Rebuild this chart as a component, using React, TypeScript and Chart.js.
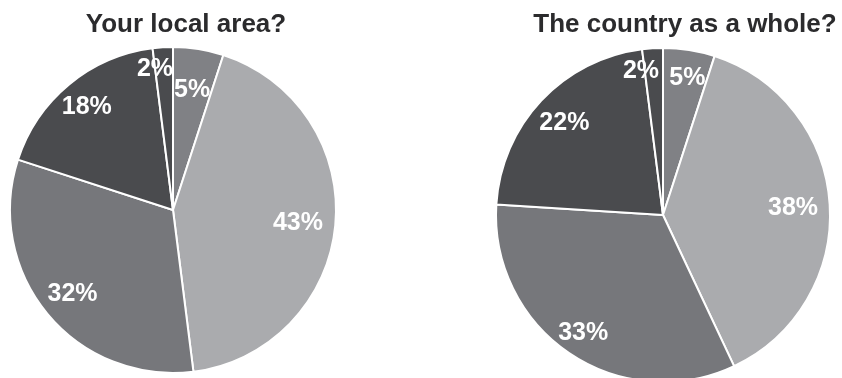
import React, { useEffect, useRef } from "react";
import { Chart, registerables } from "chart.js";

Chart.register(...registerables);

const categories = ["A", "B", "C", "D", "E"];
const localValues = [5, 43, 32, 18, 2];
const countryValues = [5, 38, 33, 22, 2];
const titles = ["Your local area?", "The country as a whole?"];

const sliceColors = ["#808185", "#aaabae", "#76777b", "#4a4b4e", "#4a4b4e"];
const localLabelRadius = [0.75, 0.77, 0.8, 0.83, 0.88];
const countryLabelRadius = [0.84, 0.78, 0.85, 0.81, 0.88];
const localLabelTurn = [0, 0, 0, 0, -3.6];
const countryLabelTurn = [1, 0, 0, 0, -5];

const FONT = "'Liberation Sans', Arial, sans-serif";

function makeLabelPlugin(fracs: number[], turns: number[]) {
  return {
    id: "sliceLabels",
    afterDatasetsDraw(chart: any) {
      const ctx = chart.ctx;
      const meta = chart.getDatasetMeta(0);
      const data = chart.data.datasets[0].data as number[];
      ctx.save();
      ctx.fillStyle = "#ffffff";
      ctx.font = `bold 25px ${FONT}`;
      ctx.textAlign = "center";
      ctx.textBaseline = "middle";
      meta.data.forEach((arc: any, i: number) => {
        const p = arc.getProps(["x", "y", "startAngle", "endAngle", "outerRadius"], true);
        const mid = (p.startAngle + p.endAngle) / 2 + (turns[i] * Math.PI) / 180;
        const r = p.outerRadius * fracs[i];
        ctx.fillText(`${data[i]}%`, p.x + Math.cos(mid) * r, p.y + Math.sin(mid) * r + 1);
      });
      ctx.restore();
    },
  };
}

function Pie(props: {
  values: number[];
  radius: number;
  fracs: number[];
  turns: number[];
  style: React.CSSProperties;
  w: number;
  h: number;
}) {
  const ref = useRef<HTMLCanvasElement>(null);
  useEffect(() => {
    if (!ref.current) return;
    const chart = new Chart(ref.current, {
      type: "pie",
      data: {
        labels: categories,
        datasets: [
          {
            data: props.values,
            backgroundColor: sliceColors,
            borderColor: "#ffffff",
            borderWidth: 2,
            hoverOffset: 0,
            offset: 0,
            radius: props.radius,
            clip: false as any,
          } as any,
        ],
      },
      options: {
        animation: false,
        responsive: false,
        maintainAspectRatio: false,
        layout: { padding: 0 },
        plugins: {
          legend: { display: false },
          tooltip: { enabled: false },
          title: { display: false },
        },
      },
      plugins: [makeLabelPlugin(props.fracs, props.turns)],
    });
    return () => chart.destroy();
  }, []);
  return (
    <canvas
      ref={ref}
      width={props.w}
      height={props.h}
      style={{ position: "absolute", width: props.w, height: props.h, ...props.style }}
    />
  );
}

const titleStyle: React.CSSProperties = {
  position: "absolute",
  top: 10,
  transform: "translateX(-50%)",
  whiteSpace: "nowrap",
  font: `bold 26px ${FONT}`,
  lineHeight: "26px",
  color: "#2b2b2d",
};

export default function App() {
  useEffect(() => {
    document.body.style.margin = "0";
  }, []);
  return (
    <div
      style={{
        position: "fixed",
        left: 0,
        top: 0,
        width: 842,
        height: 378,
        overflow: "hidden",
        background: "#ffffff",
      }}
    >
      <Pie values={localValues} radius={163} fracs={localLabelRadius} turns={localLabelTurn} w={346} h={420} style={{ left: 0, top: 0 }} />
      <Pie values={countryValues} radius={167} fracs={countryLabelRadius} turns={countryLabelTurn} w={350} h={430} style={{ left: 488, top: 0 }} />
      <div style={{ ...titleStyle, left: 186 }}>{titles[0]}</div>
      <div style={{ ...titleStyle, left: 685 }}>{titles[1]}</div>
    </div>
  );
}
